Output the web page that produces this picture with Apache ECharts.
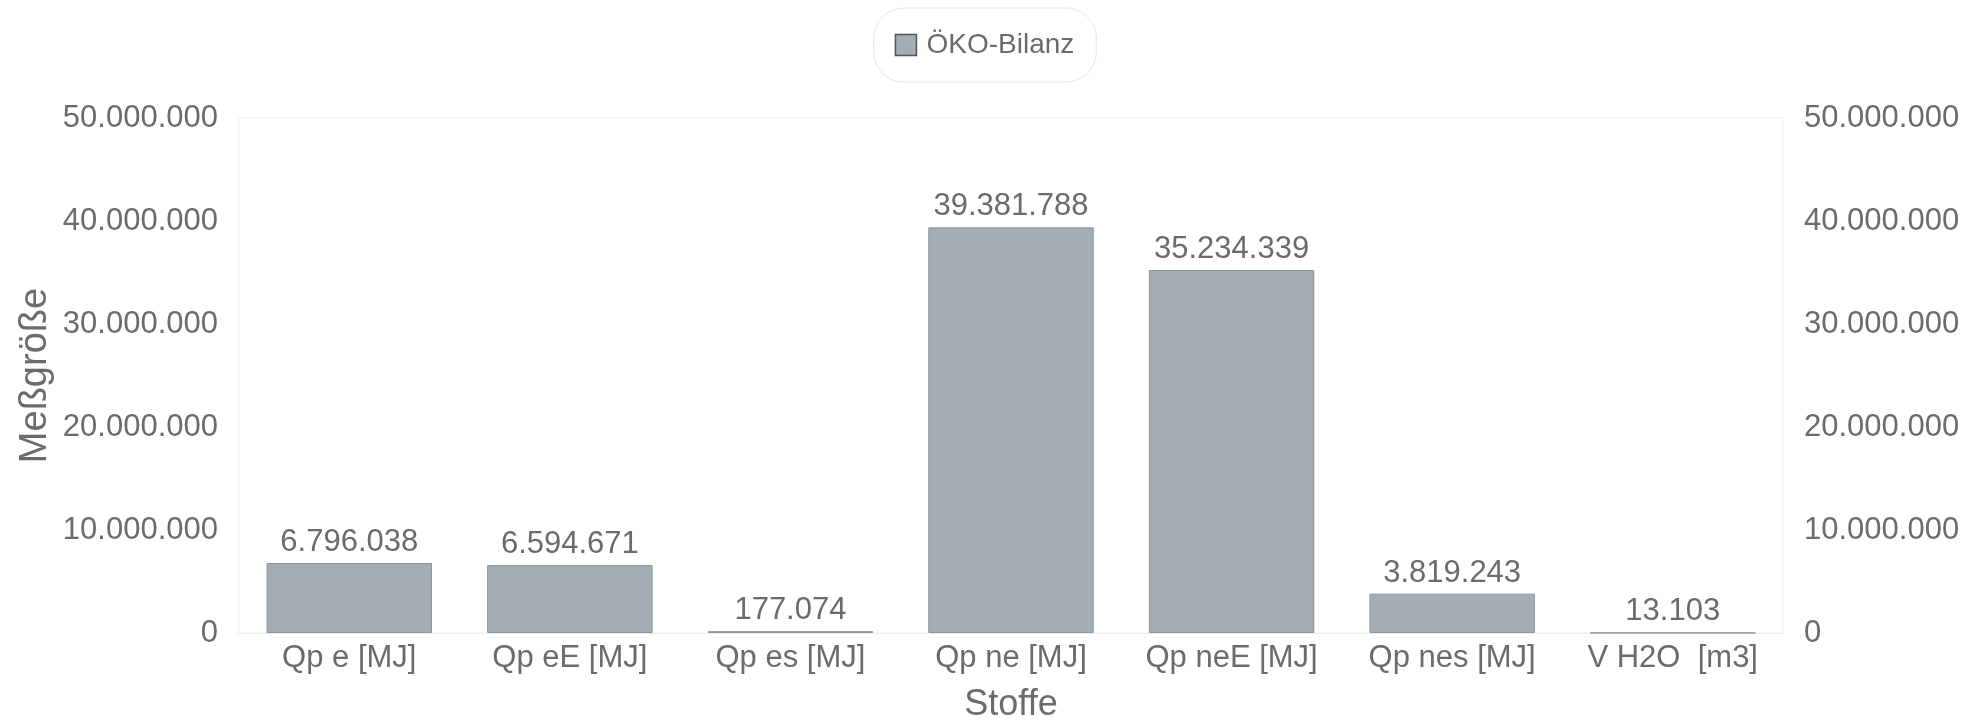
<!DOCTYPE html>
<html><head><meta charset="utf-8">
<script src="https://cdn.jsdelivr.net/npm/echarts@6/dist/echarts.min.js"></script>
<style>html,body{margin:0;padding:0;background:#fff}#c{width:1969px;height:721px}</style>
</head><body><div id="c"></div>
<script>
const categories = ['Qp e [MJ]', 'Qp eE [MJ]', 'Qp es [MJ]', 'Qp ne [MJ]', 'Qp neE [MJ]', 'Qp nes [MJ]', 'V H2O  [m3]'];
const values = [6796038, 6594671, 177074, 39381788, 35234339, 3819243, 13103];
const seriesName = 'ÖKO-Bilanz';
const yTicks = [0, 10000000, 20000000, 30000000, 40000000, 50000000];

function fmt(v){ return String(Math.round(v)).replace(/\B(?=(\d{3})+(?!\d))/g, '.'); }
const font = 'Arial, "Liberation Sans", sans-serif';
const txt = '#6b6b6b';
const chart = echarts.init(document.getElementById('c'));
const yAxisBase = {
  type: 'value', min: yTicks[0], max: yTicks[yTicks.length-1], interval: yTicks[1]-yTicks[0],
  axisLine: {show:false}, axisTick:{show:false}, splitLine:{show:false},
  axisLabel: {formatter: fmt, color: txt, fontSize: 31, fontFamily: font, margin: 21}
};
chart.setOption({
  animation: false,
  textStyle: {fontFamily: font},
  legend: {
    top: 8, left: 'center', data: [seriesName],
    backgroundColor: '#fff', borderColor: '#e6e6e6', borderWidth: 1, borderRadius: 30,
    padding: [23, 22, 23, 21],
    itemWidth: 21, itemHeight: 21, itemGap: 10,
    textStyle: {color: txt, fontSize: 28, fontFamily: font, padding: [0, 0, 0, 5]},
    icon: 'rect',
    itemStyle: {borderColor: '#555', borderWidth: 1.5}
  },
  grid: {left: 239, right: 186, top: 118, bottom: 88, show: true, borderColor: '#efefef', borderWidth: 1, outerBoundsMode: 'none', containLabel: false},
  xAxis: {
    type: 'category', data: categories,
    name: 'Stoffe', nameLocation: 'middle', nameGap: 54, nameMoveOverlap: false,
    nameTextStyle: {color: txt, fontSize: 36, fontFamily: font},
    axisLine: {show:true, lineStyle:{color:'#eeeeee'}}, axisTick: {show:false},
    axisLabel: {color: txt, fontSize: 31, fontFamily: font, margin: 10, interval: 0}
  },
  yAxis: [
    Object.assign({}, yAxisBase, {
      position: 'left', name: 'Meßgröße', nameLocation: 'middle', nameGap: 184, nameRotate: 90, nameMoveOverlap: false,
      nameTextStyle: {color: txt, fontSize: 38, fontFamily: font}
    }),
    Object.assign({}, yAxisBase, {position: 'right'})
  ],
  series: [{
    name: seriesName, type: 'bar', data: values, barWidth: '75%',
    itemStyle: {color: '#a3adb3', borderColor: '#8c959b', borderWidth: 1},
    label: {show: true, position: 'top', formatter: p => fmt(p.value), color: txt, fontSize: 31, fontFamily: font, distance: 5}
  }]
});
</script></body></html>
